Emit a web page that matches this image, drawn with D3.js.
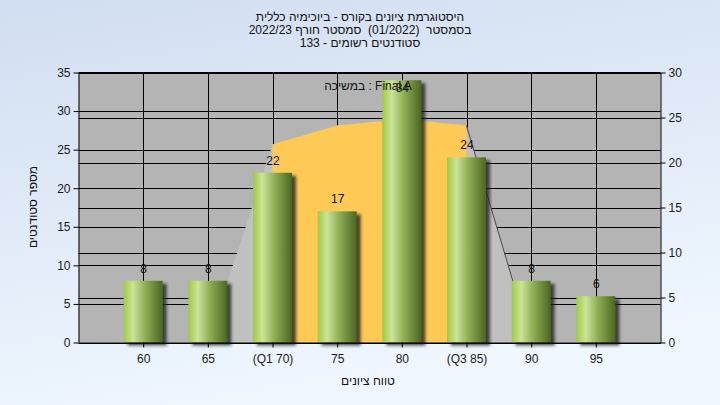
<!DOCTYPE html>
<html>
<head>
<meta charset="utf-8">
<script src="https://cdn.jsdelivr.net/npm/d3@7"></script>
<style>
  html, body { margin: 0; padding: 0; }
  body { width: 720px; height: 405px; overflow: hidden; }
  svg { display: block; font-family: "Liberation Sans", Arial, sans-serif; }
  .pre { white-space: pre; }
</style>
</head>
<body>
<svg id="chart" width="720" height="405"></svg>
<script>
// ---- data ----
const categories = [60, 65, 70, 75, 80, 85, 90, 95];
const tickLabels = ["60", "65", "(Q1 70)", "75", "80", "(Q3 85)", "90", "95"];
const counts = [8, 8, 22, 17, 34, 24, 8, 6];
const curveX = [65, 70, 75, 80, 85, 90];
const curveY = [0, 22.0, 24.1, 24.8, 24.1, 0];
const leftTicks = [0, 5, 10, 15, 20, 25, 30, 35];
const rightTicks = [0, 5, 10, 15, 20, 25, 30];
const titleLines = [
  "היסטוגרמת ציונים בקורס - ביוכימיה כללית",
  "בסמסטר  (01/2022)  סמסטר חורף 2022/23",
  "סטודנטים רשומים - 133"
];
const yTitle = "מספר סטודנטים";
const xTitle = "טווח ציונים";
const annotation = "במשיכה : Final A";

// ---- layout ----
const svg = d3.select("#chart");
const L = 78.5, R = 660.5, T = 72.5, B = 342.5;

const defs = svg.append("defs");
const bg = defs.append("linearGradient").attr("id", "bg").attr("x1", 0).attr("y1", 0).attr("x2", 0.3).attr("y2", 1);
bg.append("stop").attr("offset", 0).attr("stop-color", "#d1def1");
bg.append("stop").attr("offset", 1).attr("stop-color", "#eff6fe");

const bar = defs.append("linearGradient").attr("id", "bar").attr("x1", 0).attr("y1", 0).attr("x2", 1).attr("y2", 0);
bar.append("stop").attr("offset", 0).attr("stop-color", "#a0c943");
bar.append("stop").attr("offset", 0.24).attr("stop-color", "#cbe49a");
bar.append("stop").attr("offset", 0.55).attr("stop-color", "#8fae55");
bar.append("stop").attr("offset", 1).attr("stop-color", "#4a6722");

const sh = defs.append("filter").attr("id", "shadow").attr("x", "-20%").attr("y", "-10%").attr("width", "150%").attr("height", "130%");
sh.append("feDropShadow").attr("dx", 4).attr("dy", 3).attr("stdDeviation", 1.6)
  .attr("flood-color", "#222").attr("flood-opacity", 0.8);

svg.append("rect").attr("width", 720).attr("height", 405).attr("fill", "url(#bg)");

const x = d3.scaleLinear().domain([55, 100]).range([L, R]);
const yL = d3.scaleLinear().domain([0, 35]).range([B, T]);
const yR = d3.scaleLinear().domain([0, 30]).range([B, T]);

// plot background
svg.append("rect").attr("x", L).attr("y", T).attr("width", R - L).attr("height", B - T).attr("fill", "#b4b4b4");

// gridlines (both axes) and vertical category lines
const grid = svg.append("g").attr("stroke", "#000").attr("stroke-width", 1);
leftTicks.forEach(t => grid.append("line").attr("x1", L).attr("x2", R)
  .attr("y1", Math.round(yL(t)) + 0.5).attr("y2", Math.round(yL(t)) + 0.5));
rightTicks.forEach(t => grid.append("line").attr("x1", L).attr("x2", R)
  .attr("y1", Math.round(yR(t)) + 0.5).attr("y2", Math.round(yR(t)) + 0.5));
categories.forEach(c => grid.append("line").attr("y1", T).attr("y2", B)
  .attr("x1", Math.round(x(c)) + 0.5).attr("x2", Math.round(x(c)) + 0.5));

// curve area
const pts = curveX.map((v, i) => [v, curveY[i]]);
const area = d3.area().x(d => x(d[0])).y0(B).y1(d => yR(d[1]));
svg.append("path").datum(pts).attr("d", area).attr("fill", "#c0c0c0");
const mid = pts.filter(d => d[0] >= 70 && d[0] <= 85);
svg.append("path").datum(mid).attr("d", area).attr("fill", "#fec955");
const edge = pts.filter(d => d[0] >= 85);
svg.append("path").datum(edge).attr("d", d3.line().x(d => x(d[0])).y(d => yR(d[1])))
  .attr("fill", "none").attr("stroke", "#4a4a4a").attr("stroke-width", 1);

// bars
const bw = 39;
svg.append("g").selectAll("rect").data(categories).join("rect")
  .attr("x", c => x(c) - bw / 2)
  .attr("y", (c, i) => yL(counts[i]))
  .attr("width", bw)
  .attr("height", (c, i) => B - yL(counts[i]))
  .attr("fill", "url(#bar)")
  .attr("filter", "url(#shadow)");

// annotation
svg.append("text").attr("x", 368).attr("y", 90).attr("text-anchor", "middle")
  .attr("font-size", 12).attr("fill", "#111").text(annotation);

// value labels
svg.append("g").selectAll("text").data(categories).join("text")
  .attr("x", c => x(c) + 0.5)
  .attr("y", (c, i) => { const yy = yL(counts[i]) - 8; return yy < T + 10 ? yL(counts[i]) + 12 : yy; })
  .attr("text-anchor", "middle").attr("font-size", 12).attr("fill", "#111")
  .text((c, i) => counts[i]);

// axes
const axL = svg.append("g").attr("transform", `translate(${L},0)`)
  .call(d3.axisLeft(yL).tickValues(leftTicks).tickSize(5).tickSizeOuter(0));
const axR = svg.append("g").attr("transform", `translate(${R},0)`)
  .call(d3.axisRight(yR).tickValues(rightTicks).tickSize(5).tickSizeOuter(0));
const axB = svg.append("g").attr("transform", `translate(0,${B})`)
  .call(d3.axisBottom(x).tickValues(categories).tickSize(5).tickSizeOuter(0)
    .tickFormat((d, i) => tickLabels[i]));
[axL, axR, axB].forEach(a => {
  a.selectAll("path,line").attr("stroke", "#000");
  a.selectAll("text").attr("font-size", 12).attr("fill", "#1a1a1a")
    .attr("font-family", "'Liberation Sans', Arial, sans-serif");
});
axB.selectAll("text").attr("dy", "1.05em");
// top border
svg.append("line").attr("x1", L).attr("x2", R).attr("y1", T).attr("y2", T).attr("stroke", "#000");

// titles
svg.append("g").selectAll("text").data(titleLines).join("text")
  .attr("class", "pre")
  .attr("x", 360).attr("y", (d, i) => 21 + i * 13)
  .attr("text-anchor", "middle").attr("direction", "rtl").attr("font-size", 12).attr("fill", "#111")
  .text(d => d);
svg.append("text").attr("transform", "translate(37,207) rotate(-90)")
  .attr("text-anchor", "middle").attr("font-size", 12).attr("fill", "#111").text(yTitle);
svg.append("text").attr("x", 368).attr("y", 385)
  .attr("text-anchor", "middle").attr("font-size", 12).attr("fill", "#111").text(xTitle);
</script>
</body>
</html>
